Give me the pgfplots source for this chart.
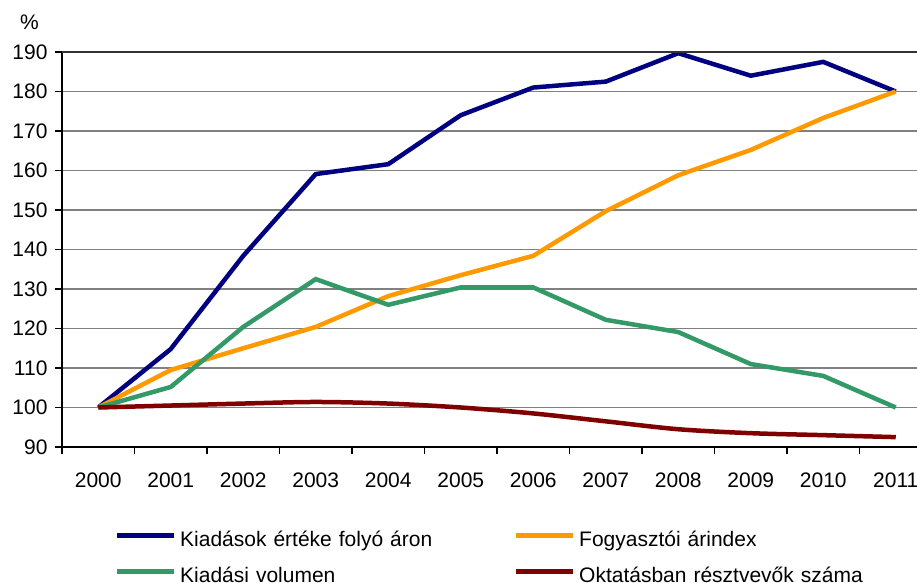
\documentclass[border=0pt]{standalone}
\usepackage{fontspec}
\setmainfont{Liberation Sans}
\usepackage{pgfplots}
\pgfplotsset{compat=1.18}

\definecolor{cBlue}{HTML}{000080}
\definecolor{cOrange}{HTML}{FF9900}
\definecolor{cGreen}{HTML}{339966}
\definecolor{cRed}{HTML}{800000}
\definecolor{gridgray}{HTML}{808080}

\newcommand{\chartfont}{\fontsize{21}{25}\selectfont}

\begin{document}
\begin{tikzpicture}
\useasboundingbox (0pt,0pt) rectangle (917pt,582pt);
\clip (0pt,0pt) rectangle (917pt,582pt);
\begin{axis}[
  at={(62pt,135pt)}, anchor=south west,
  scale only axis, width=870pt, height=395pt,
  xmin=-0.5, xmax=11.5, ymin=90, ymax=190,
  axis x line=bottom, axis y line=left,
  axis line style={-, line width=1.5pt, black},
  xtick={-0.5,0.5,1.5,2.5,3.5,4.5,5.5,6.5,7.5,8.5,9.5,10.5,11.5},
  x tick label as interval,
  xticklabels={2000,2001,2002,2003,2004,2005,2006,2007,2008,2009,2010,2011},
  ytick={90,100,...,190},
  ymajorgrids, grid style={gridgray, line width=1.3pt},
  tick align=outside, major tick length=7pt,
  tick style={black, line width=1.5pt},
  tick label style={font=\chartfont},
  /pgf/number format/assume math mode=true,
  xticklabel style={yshift=-15pt},
  yticklabel style={xshift=-4pt},
  legend columns=2,
  legend style={at={(0.0606,-0.2127)}, anchor=north west, draw=none, fill=none,
    inner sep=0pt, font=\chartfont, row sep=17pt,
    nodes={inner sep=0pt, text height=15pt, text depth=4pt},
    /tikz/every odd column/.append style={column sep=3.75pt},
    /tikz/every even column/.append style={text width=333.75pt}},
  legend cell align=left,
  legend image code/.code={\draw[#1] (0pt,5pt) -- (57pt,5pt);},
  every axis plot/.append style={line width=4.5pt},
]
\addplot[cBlue] coordinates {(0,100) (1,114.8) (2,138.4) (3,159.1) (4,161.6) (5,174) (6,181) (7,182.5) (8,189.7) (9,184) (10,187.5) (11,180)};
\addlegendentry{Kiadások értéke folyó áron}
\addplot[cOrange] coordinates {(0,100) (1,109.5) (2,115) (3,120.4) (4,128.2) (5,133.5) (6,138.4) (7,149.7) (8,158.8) (9,165.2) (10,173.3) (11,180)};
\addlegendentry{Fogyasztói árindex}
\addplot[cGreen] coordinates {(0,100) (1,105.2) (2,120.4) (3,132.5) (4,126) (5,130.4) (6,130.4) (7,122.2) (8,119.1) (9,111) (10,108) (11,100)};
\addlegendentry{Kiadási volumen}
\addplot[cRed, smooth, tension=0.5] coordinates {(0,100) (1,100.5) (2,101) (3,101.4) (4,101) (5,100) (6,98.5) (7,96.5) (8,94.5) (9,93.5) (10,93) (11,92.5)};
\addlegendentry{Oktatásban résztvevők száma}
\draw[black!80, line width=1.5pt] (rel axis cs:0,1) -- (rel axis cs:1,1);
\end{axis}
\node[font=\chartfont] at (29.5pt,559.5pt) {\%};
\end{tikzpicture}
\end{document}
